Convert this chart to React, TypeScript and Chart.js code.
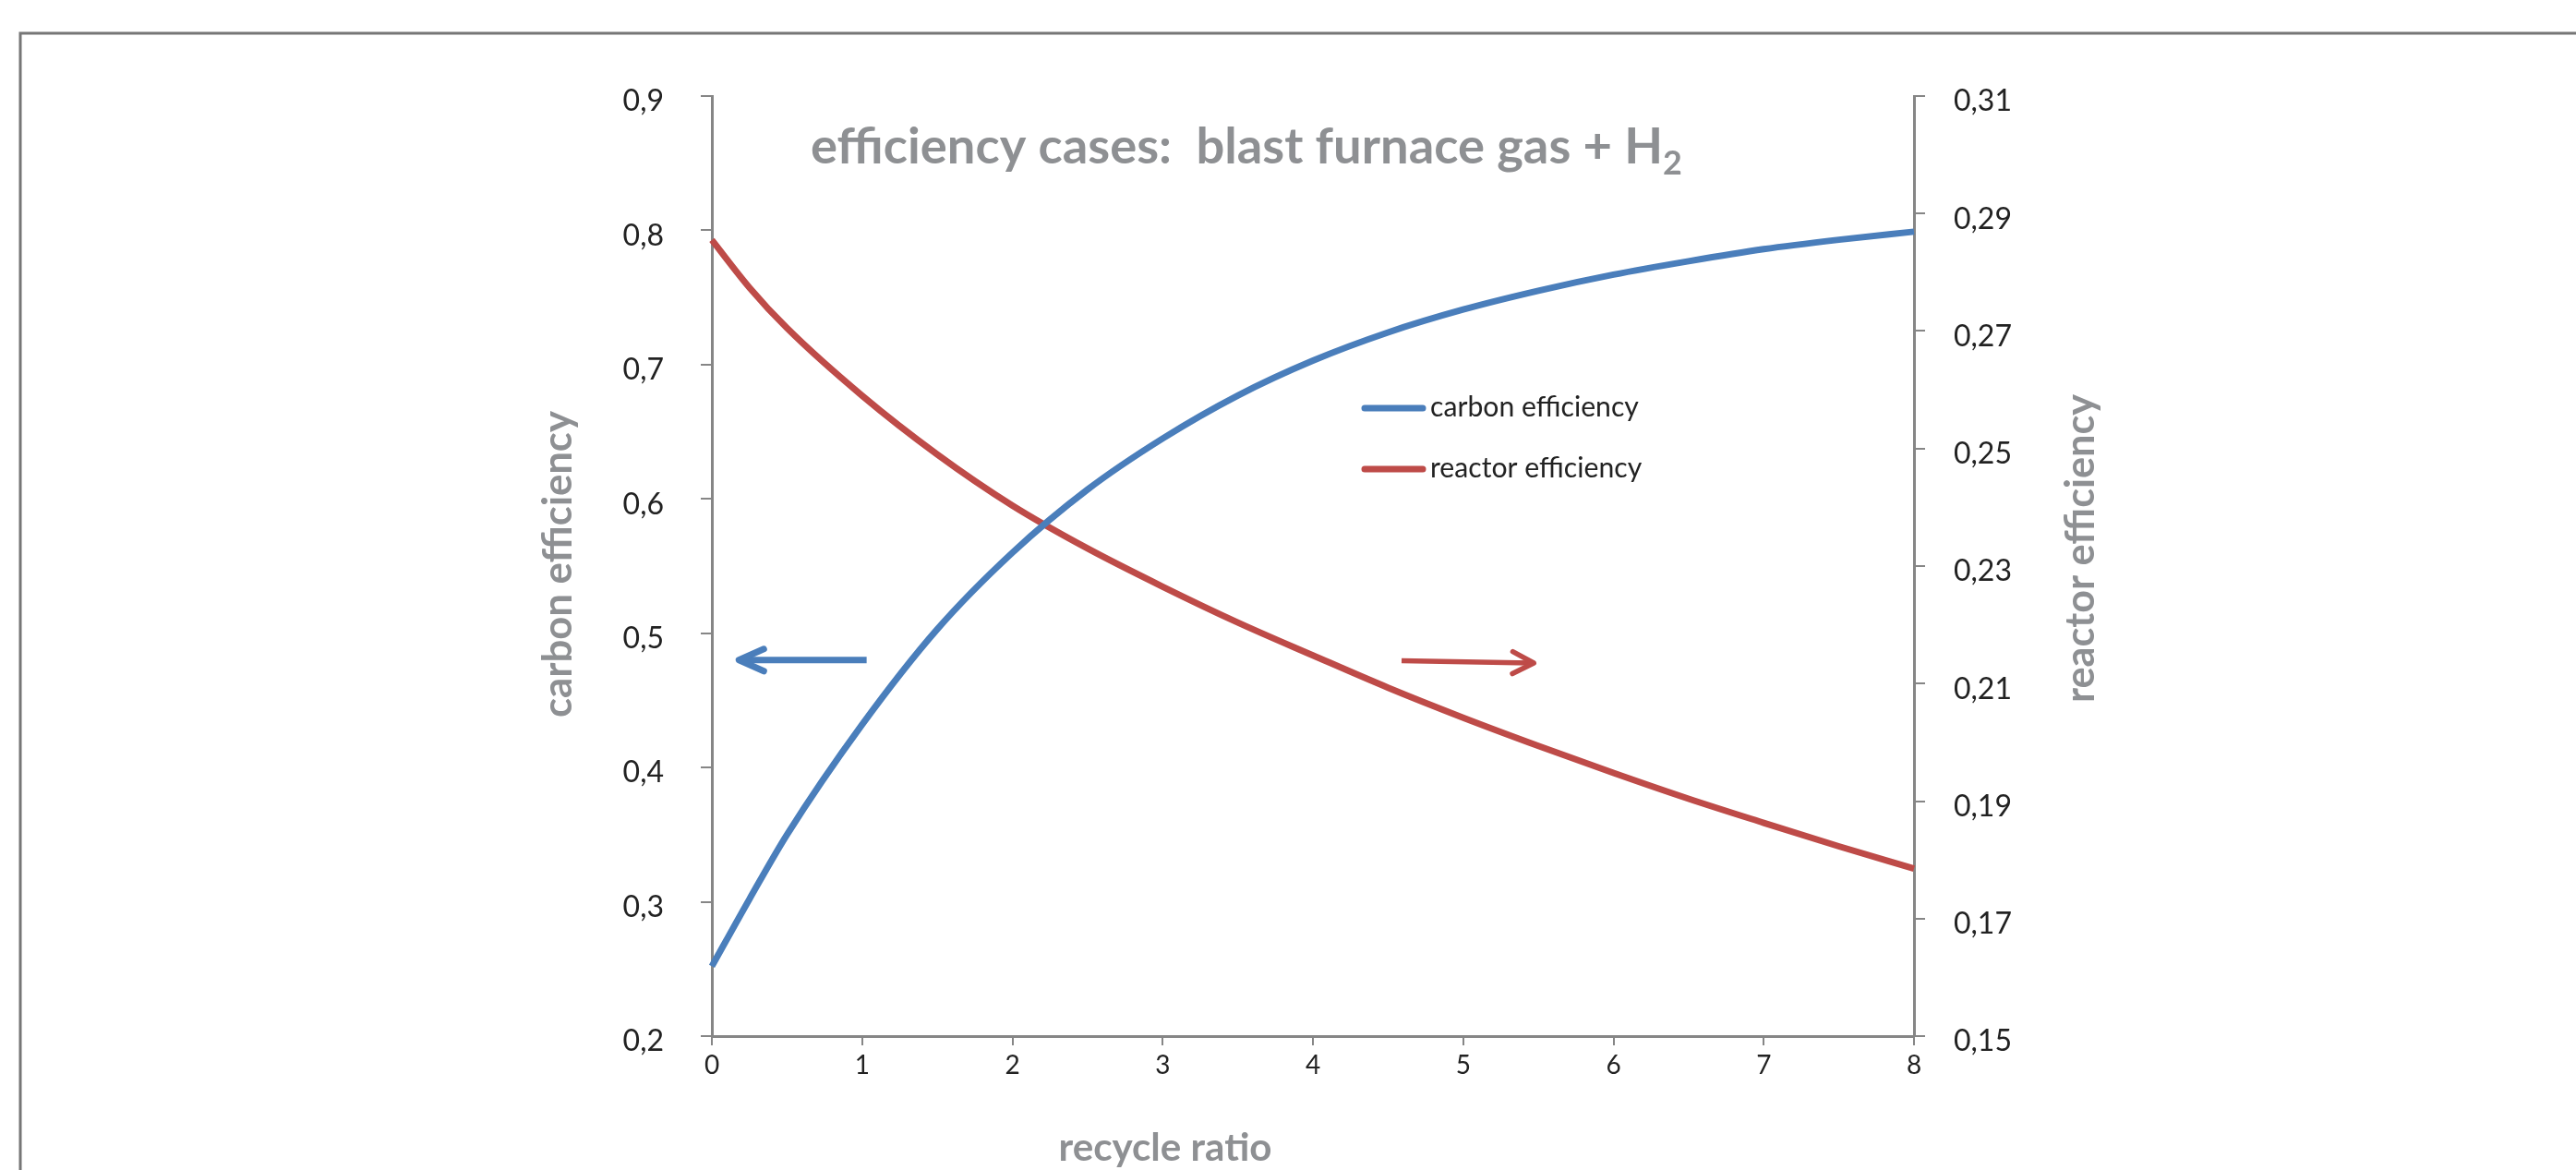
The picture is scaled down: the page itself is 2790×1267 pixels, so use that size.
import React, { useEffect, useRef } from "react";
import { Chart, registerables } from "chart.js";

Chart.register(...registerables);

// ---- data ----
const recycleRatio = [0, 0.25, 0.5, 1, 1.5, 2, 2.5, 3, 3.5, 4, 4.5, 5, 5.5, 6, 6.5, 7, 7.5, 8];
const carbonEfficiency = [
  0.252, 0.302, 0.35, 0.432, 0.503, 0.56, 0.607, 0.645, 0.677, 0.703, 0.724, 0.741, 0.755, 0.767, 0.777, 0.786, 0.793,
  0.799,
];
const reactorEfficiency = [
  0.2855, 0.2774, 0.2705, 0.259, 0.249, 0.2403, 0.233, 0.2265, 0.2204, 0.2148, 0.2093, 0.2042, 0.1994, 0.1948, 0.1904,
  0.1863, 0.1823, 0.1785,
];

const xTicks = [0, 1, 2, 3, 4, 5, 6, 7, 8];
const leftTicks = [0.2, 0.3, 0.4, 0.5, 0.6, 0.7, 0.8, 0.9];
const rightTicks = [0.15, 0.17, 0.19, 0.21, 0.23, 0.25, 0.27, 0.29, 0.31];

const seriesNames = ["carbon efficiency", "reactor efficiency"];
const chartTitle = "efficiency cases:  blast furnace gas + H";
const chartTitleSub = "2";
const xTitle = "recycle ratio";
const yLeftTitle = "carbon efficiency";
const yRightTitle = "reactor efficiency";

// arrows in data coordinates: [recycle ratio, value on its own axis]
const blueArrow = { from: [1.03, 0.48], to: [0.18, 0.48] };
const redArrow = { from: [4.59, 0.2139], to: [5.47, 0.2135] };

const BLUE = "#4A7EBB";
const RED = "#BE4B48";
const AXIS = "#868686";
const GREY_TEXT = "#8E9093";
const TICK_TEXT = "#222222";
const FONT = "Lato";

function fitSize(ctx: CanvasRenderingContext2D, text: string, weight: string, target: number) {
  ctx.font = `${weight} 100px ${FONT}`;
  const w = ctx.measureText(text).width;
  return (100 * target) / w;
}

function drawArrow(
  ctx: CanvasRenderingContext2D,
  x1: number, y1: number, x2: number, y2: number,
  color: string, lw: number, headLen: number, headHalf: number
) {
  const ang = Math.atan2(y2 - y1, x2 - x1);
  const c = Math.cos(ang), s = Math.sin(ang);
  ctx.save();
  ctx.strokeStyle = color;
  ctx.lineWidth = lw;
  ctx.lineCap = "butt";
  ctx.beginPath();
  ctx.moveTo(x1, y1);
  ctx.lineTo(x2 - c * 3, y2 - s * 3);
  ctx.stroke();
  ctx.lineCap = "round";
  ctx.lineJoin = "round";
  const bx = x2 - headLen * c, by = y2 - headLen * s;
  ctx.beginPath();
  ctx.moveTo(bx - headHalf * s, by + headHalf * c);
  ctx.lineTo(x2, y2);
  ctx.lineTo(bx + headHalf * s, by - headHalf * c);
  ctx.stroke();
  ctx.restore();
}

const decorPlugin = {
  id: "decor",
  afterDraw(chart: any) {
    const ctx: CanvasRenderingContext2D = chart.ctx;
    const xs = chart.scales.x, yl = chart.scales.y, yr = chart.scales.y1;
    ctx.save();

    // outer frame
    ctx.strokeStyle = "#767676";
    ctx.lineWidth = 3;
    ctx.beginPath();
    ctx.moveTo(22, chart.height + 10);
    ctx.lineTo(22, 36);
    ctx.lineTo(chart.width + 10, 36);
    ctx.stroke();

    // title
    const mainW = (() => { ctx.font = `bold 100px ${FONT}`; return ctx.measureText(chartTitle).width; })();
    const subW = (() => { ctx.font = `bold 66px ${FONT}`; return ctx.measureText(chartTitleSub).width; })();
    const tSize = (100 * 944) / (mainW + subW);
    ctx.fillStyle = GREY_TEXT;
    ctx.textAlign = "left";
    ctx.textBaseline = "alphabetic";
    ctx.font = `bold ${tSize}px ${FONT}`;
    const tx = 878, ty = 177;
    ctx.fillText(chartTitle, tx, ty);
    const w1 = ctx.measureText(chartTitle).width;
    ctx.font = `bold ${tSize * 0.66}px ${FONT}`;
    ctx.fillText(chartTitleSub, tx + w1, ty + tSize * 0.22);

    // axis titles
    const cSize = fitSize(ctx, yLeftTitle, "bold", 332);
    ctx.font = `bold ${cSize}px ${FONT}`;
    ctx.textAlign = "center";
    ctx.textBaseline = "middle";
    ctx.save();
    ctx.translate(605, 611);
    ctx.rotate(-Math.PI / 2);
    ctx.fillText(yLeftTitle, 0, 0);
    ctx.restore();

    const rSize = fitSize(ctx, yRightTitle, "bold", 334);
    ctx.font = `bold ${rSize}px ${FONT}`;
    ctx.save();
    ctx.translate(2254, 594);
    ctx.rotate(-Math.PI / 2);
    ctx.fillText(yRightTitle, 0, 0);
    ctx.restore();

    const xSize = fitSize(ctx, xTitle, "bold", 231);
    ctx.font = `bold ${xSize}px ${FONT}`;
    ctx.textBaseline = "alphabetic";
    ctx.fillText(xTitle, 1262, 1257);

    // legend
    const legendColors = [BLUE, RED];
    const legendY = [442, 508];
    const lSize = fitSize(ctx, seriesNames[0], "normal", 226);
    seriesNames.forEach((name, i) => {
      ctx.strokeStyle = legendColors[i];
      ctx.lineWidth = 7;
      ctx.lineCap = "round";
      ctx.beginPath();
      ctx.moveTo(1478, legendY[i]);
      ctx.lineTo(1541, legendY[i]);
      ctx.stroke();
      ctx.fillStyle = "#222222";
      ctx.font = `normal ${lSize}px ${FONT}`;
      ctx.textAlign = "left";
      ctx.textBaseline = "alphabetic";
      ctx.fillText(name, 1549, legendY[i] + 9);
    });

    // arrows
    drawArrow(
      ctx,
      xs.getPixelForValue(blueArrow.from[0]), yl.getPixelForValue(blueArrow.from[1]),
      xs.getPixelForValue(blueArrow.to[0]), yl.getPixelForValue(blueArrow.to[1]),
      BLUE, 7, 27, 12
    );
    drawArrow(
      ctx,
      xs.getPixelForValue(redArrow.from[0]), yr.getPixelForValue(redArrow.from[1]),
      xs.getPixelForValue(redArrow.to[0]), yr.getPixelForValue(redArrow.to[1]),
      RED, 5.5, 23, 12
    );

    ctx.restore();
  },
};

export default function App() {
  const ref = useRef<HTMLCanvasElement | null>(null);

  useEffect(() => {
    if (!ref.current) return;
    const chart = new Chart(ref.current, {
      type: "line",
      data: {
        datasets: [
          {
            label: seriesNames[0],
            data: recycleRatio.map((r, i) => ({ x: r, y: carbonEfficiency[i] })),
            borderColor: BLUE,
            backgroundColor: BLUE,
            borderWidth: 7,
            pointRadius: 0,
            cubicInterpolationMode: "monotone",
            yAxisID: "y",
            clip: false,
          },
          {
            label: seriesNames[1],
            data: recycleRatio.map((r, i) => ({ x: r, y: reactorEfficiency[i] })),
            borderColor: RED,
            backgroundColor: RED,
            borderWidth: 7,
            pointRadius: 0,
            cubicInterpolationMode: "monotone",
            yAxisID: "y1",
            clip: false,
          },
        ],
      },
      options: {
        responsive: false,
        animation: false,
        events: [],
        layout: { padding: { top: 104, left: 0, right: 0, bottom: 0 } },
        plugins: {
          legend: { display: false },
          tooltip: { enabled: false },
          title: { display: false },
        },
        scales: {
          x: {
            type: "linear",
            position: "bottom",
            min: 0,
            max: 8,
            afterFit: (s: any) => { s.height = 145; },
            afterBuildTicks: (s: any) => { s.ticks = xTicks.map((v) => ({ value: v })); },
            grid: { drawOnChartArea: false, drawTicks: true, tickLength: 10, color: AXIS, lineWidth: 2 },
            border: { display: true, color: AXIS, width: 3 },
            ticks: {
              padding: 5,
              color: TICK_TEXT,
              font: { family: FONT, size: 28 },
              maxRotation: 0,
              autoSkip: false,
              callback: (v: any) => String(v),
            },
          },
          y: {
            type: "linear",
            position: "left",
            min: 0.2,
            max: 0.9,
            afterFit: (s: any) => { s.width = 771; },
            afterBuildTicks: (s: any) => { s.ticks = leftTicks.map((v) => ({ value: v })); },
            grid: { drawOnChartArea: false, drawTicks: true, tickLength: 12, color: AXIS, lineWidth: 2 },
            border: { display: true, color: AXIS, width: 3 },
            ticks: {
              padding: 40,
              labelOffset: 6,
              color: TICK_TEXT,
              font: { family: FONT, size: 32 },
              autoSkip: false,
              callback: (v: any) => Number(v).toFixed(1).replace(".", ","),
            },
          },
          y1: {
            type: "linear",
            position: "right",
            min: 0.15,
            max: 0.31,
            afterFit: (s: any) => { s.width = 2790 - 2073; },
            afterBuildTicks: (s: any) => { s.ticks = rightTicks.map((v) => ({ value: v })); },
            grid: { drawOnChartArea: false, drawTicks: true, tickLength: 12, color: AXIS, lineWidth: 2 },
            border: { display: true, color: AXIS, width: 3 },
            ticks: {
              padding: 31,
              labelOffset: 6,
              color: TICK_TEXT,
              font: { family: FONT, size: 32 },
              autoSkip: false,
              callback: (v: any) => Number(v).toFixed(2).replace(".", ","),
            },
          },
        },
      } as any,
      plugins: [decorPlugin],
    });
    return () => chart.destroy();
  }, []);

  return (
    <div style={{ position: "fixed", left: 0, top: 0, width: 2790, height: 1267, background: "#ffffff" }}>
      <canvas ref={ref} width={2790} height={1267} style={{ display: "block", width: 2790, height: 1267 }} />
    </div>
  );
}
